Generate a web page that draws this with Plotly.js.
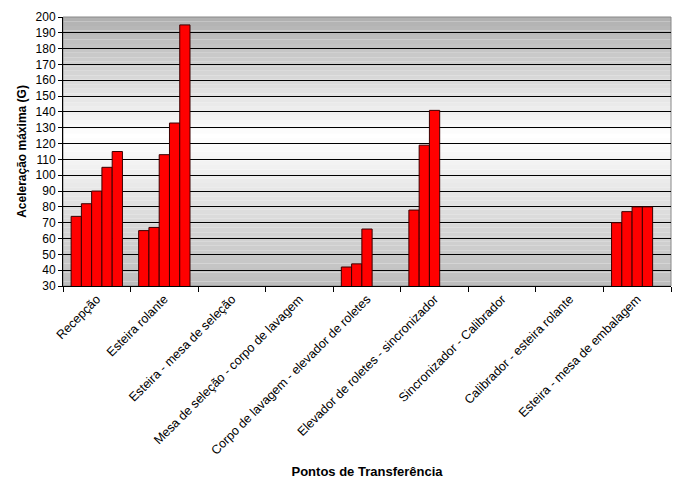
<!DOCTYPE html>
<html>
<head>
<meta charset="utf-8">
<script src="https://cdn.plot.ly/plotly-3.0.1.min.js"></script>
<style>html,body{margin:0;padding:0;background:#fff;}#chart{width:677px;height:479px;}</style>
</head>
<body>
<div id="chart"></div>
<script>
const categories = [
  "Recepção",
  "Esteira rolante",
  "Esteira - mesa de seleção",
  "Mesa de seleção - corpo de lavagem",
  "Corpo de lavagem - elevador de roletes",
  "Elevador de roletes - sincronizador",
  "Sincronizador - Calibrador",
  "Calibrador - esteira rolante",
  "Esteira - mesa de embalagem"
];
const series1 = [74, 65, null, null, 42, 78, null, null, 70];
const series2 = [82, 67, null, null, 44, 119, null, null, 77];
const series3 = [90, 113, null, null, 66, 141, null, null, 80];
const series4 = [105, 133, null, null, null, null, null, null, 80];
const series5 = [115, 195, null, null, null, null, null, null, null];
const allSeries = [series1, series2, series3, series4, series5];

const traces = allSeries.map((s, i) => ({
  type: 'bar',
  x: categories,
  y: s,
  name: 'S' + (i + 1),
  marker: {color: '#ff0000', line: {color: '#3a0000', width: 1}},
  hoverinfo: 'x+y'
}));

// background gradient bands (decoration)
const stops = [[0, 188], [0.56, 255], [1, 176]];
function grayAt(f) {
  for (let k = 0; k < stops.length - 1; k++) {
    const a = stops[k], b = stops[k + 1];
    if (f >= a[0] && f <= b[0]) {
      const t = (f - a[0]) / (b[0] - a[0]);
      return Math.round(a[1] + (b[1] - a[1]) * t);
    }
  }
  return stops[stops.length - 1][1];
}
const shapes = [];
const nBands = 60;
for (let k = 0; k < nBands; k++) {
  const g = grayAt((k + 0.5) / nBands);
  shapes.push({
    type: 'rect', xref: 'paper', yref: 'paper', layer: 'below',
    x0: 0, x1: 1, y0: k / nBands, y1: (k + 1) / nBands,
    fillcolor: `rgb(${g},${g},${g})`, line: {width: 0}
  });
}
shapes.push({type: 'rect', xref: 'paper', yref: 'paper', layer: 'below',
  x0: 0, x1: 1, y0: 0, y1: 1, line: {color: '#888888', width: 1}, fillcolor: 'rgba(0,0,0,0)'});

const layout = {
  width: 677, height: 479,
  margin: {l: 63, r: 6, t: 17, b: 193},
  paper_bgcolor: '#ffffff',
  plot_bgcolor: 'rgba(0,0,0,0)',
  font: {family: '"Liberation Sans", Arial, sans-serif', size: 12, color: '#000'},
  showlegend: false,
  barmode: 'group',
  bargap: 0.24,
  bargroupgap: 0,
  shapes: shapes,
  xaxis: {
    type: 'category',
    tickangle: -45,
    tickson: 'boundaries',
    ticks: 'outside', ticklen: 5, tickcolor: '#000',
    showline: true, linecolor: '#000', linewidth: 1,
    showgrid: false,
    tickfont: {size: 12.5},
    automargin: false,
    title: {text: 'Pontos de Transferência', font: {size: 13, weight: 'bold'}, standoff: 20}
  },
  yaxis: {
    range: [30, 200], dtick: 10, tick0: 0,
    ticks: 'outside', ticklen: 4, tickcolor: '#000',
    showline: true, linecolor: '#000', linewidth: 1,
    showgrid: true, gridcolor: '#000', gridwidth: 1,
    zeroline: false,
    tickfont: {size: 12},
    automargin: false,
    title: {text: 'Aceleração máxima (G)', font: {size: 12, weight: 'bold'}, standoff: 6}
  }
};

Plotly.newPlot('chart', traces, layout, {displayModeBar: false, staticPlot: true});
</script>
</body>
</html>
